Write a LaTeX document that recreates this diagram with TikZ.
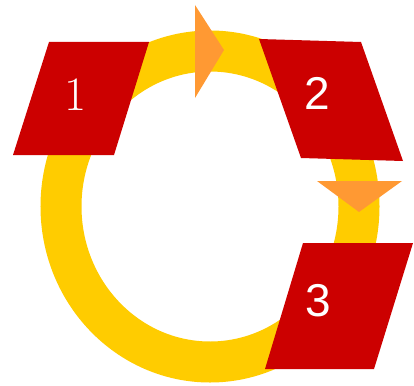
\documentclass[tikz,border=0pt]{standalone}
\usepackage{fontspec}
\newfontfamily\lblsans{Liberation Sans}
\definecolor{ringyellow}{HTML}{FFCC00}
\definecolor{boxred}{HTML}{CC0000}
\definecolor{arroworange}{HTML}{FF9933}
\begin{document}
\begin{tikzpicture}[x=1pt,y=-1pt,
  ring/.style={draw=ringyellow,line width=41pt},
  redbox/.style={fill=boxred},
  arrowhd/.style={fill=arroworange},
  lbl/.style={text=white,inner sep=0pt},
  serifnum/.style={font=\rmfamily\fontsize{48}{48}\selectfont},
  sansnum/.style={font=\lblsans\fontsize{46}{46}\selectfont}]
\useasboundingbox[fill=white] (0,0) rectangle (414,385);
% ring
\draw[ring] (210,206.5) ellipse [x radius=149, y radius=155.5];
% arrowheads
\fill[arrowhd] (195,5) -- (224,50) -- (195,98) -- cycle;
\fill[arrowhd] (317,181) -- (402,181) -- (359,212) -- cycle;
% boxes
\fill[redbox] (49,42) -- (149,42) -- (114,155) -- (13,155) -- cycle;
\fill[redbox] (259,39) -- (361,42) -- (403,161) -- (301,158) -- cycle;
\fill[redbox] (303,243) -- (413,243) -- (374,369) -- (265,369) -- cycle;
% labels
\node[lbl,serifnum] (l1) at (76,95) {1};
\node[lbl,sansnum] (l2) at (317,93) {2};
\node[lbl,sansnum] (l3) at (318,301) {3};
\end{tikzpicture}
\end{document}
